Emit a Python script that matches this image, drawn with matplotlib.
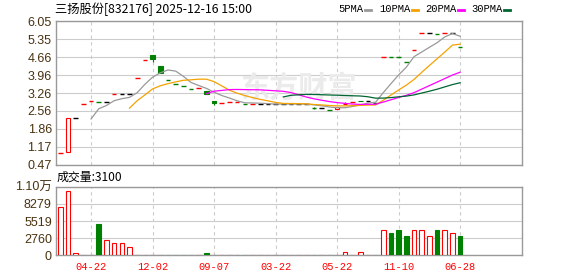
import numpy as np
import pandas as pd
import matplotlib
matplotlib.use('Agg')
import matplotlib.pyplot as plt
from matplotlib.lines import Line2D

# daily k-line data
opens  = [0.92, 0.95, 2.28, 2.82, 2.95, 2.91, 2.91, 3.21, 3.21, 3.21,
          3.83, 4.53, 4.74, 4.31, 3.77, 3.61, 3.52, 3.40, 3.46, 3.34,
          2.96, 2.88, 2.91, 2.92, 2.82, 2.83, 2.83, 2.83, 2.83, 2.83,
          2.83, 2.83, 2.83, 2.66, 2.66, 2.59, 2.63, 2.82, 2.91, 2.96,
          2.95, 2.88, 4.68, 4.66, 4.65, 4.46, 4.92, 5.58, 5.58, 5.55,
          5.58, 5.58, 5.04]
closes = [0.92, 2.28, 2.28, 2.82, 2.95, 2.91, 2.91, 3.21, 3.21, 3.21,
          3.83, 4.53, 4.60, 4.05, 3.77, 3.61, 3.52, 3.40, 3.46, 3.21,
          2.86, 2.88, 2.91, 2.92, 2.82, 2.83, 2.83, 2.83, 2.83, 2.83,
          2.83, 2.83, 2.83, 2.66, 2.66, 2.59, 2.70, 2.82, 2.91, 2.95,
          2.95, 2.88, 4.68, 4.66, 4.65, 4.46, 4.92, 5.58, 5.58, 5.55,
          5.58, 5.58, 5.04]
highs  = [0.92, 2.28, 2.28, 2.82, 2.95, 2.91, 2.91, 3.21, 3.21, 3.21,
          3.83, 4.53, 4.74, 4.31, 3.77, 3.61, 3.52, 3.40, 3.46, 3.34,
          2.96, 2.88, 2.91, 2.92, 2.82, 2.83, 2.83, 2.83, 2.83, 2.83,
          2.83, 2.83, 2.83, 2.70, 2.66, 2.59, 2.70, 2.92, 2.91, 2.96,
          2.95, 2.88, 4.68, 4.66, 4.65, 4.46, 4.92, 5.58, 5.58, 5.55,
          5.58, 5.58, 5.04]
lows   = [0.92, 0.95, 2.28, 2.82, 2.95, 2.91, 2.91, 3.21, 3.21, 3.21,
          3.83, 4.53, 4.48, 4.05, 3.77, 3.61, 3.52, 3.40, 3.46, 3.21,
          2.81, 2.88, 2.91, 2.92, 2.82, 2.83, 2.83, 2.83, 2.83, 2.83,
          2.83, 2.83, 2.83, 2.62, 2.66, 2.59, 2.63, 2.82, 2.91, 2.95,
          2.95, 2.88, 4.68, 4.66, 4.65, 4.46, 4.92, 5.58, 5.58, 5.55,
          5.58, 5.58, 5.04]
volumes = [7730, 10300, 450, 100, 100, 5090, 2460, 1980, 1980, 1290,
           100, 100, 100, 100, 100, 100, 100, 100, 100, 370,
           100, 100, 100, 100, 100, 100, 100, 100, 100, 100,
           100, 100, 100, 100, 100, 100, 100, 530, 100, 530,
           100, 100, 4070, 3590, 4070, 3100, 4070, 4070, 3100, 4070,
           4070, 3590, 3100]
first_prev_close = 0.85

date_ticks = [4, 12, 20, 28, 36, 44, 52]
date_labels = ['04-22', '12-02', '09-07', '03-22', '05-22', '11-10', '06-28']
price_ticks = [0.47, 1.1675, 1.865, 2.5625, 3.26, 3.9575, 4.655, 5.3525, 6.05]
price_labels = ['0.47', '1.17', '1.86', '2.56', '3.26', '3.96', '4.66', '5.35', '6.05']
vol_ticks = [0, 2759.5, 5519, 8278.5, 11038]
vol_labels = ['0', '2760', '5519', '8279', '1.10万']
ma_periods = [5, 10, 20, 30]
ma_names = ['5PMA', '10PMA', '20PMA', '30PMA']
ma_colors = ['#999999', '#f5a200', '#ff00ff', '#006633']

RED = '#ff0000'
GREEN = '#008000'
TICK_COL = '#4a3210'
CJK = ['Noto Sans CJK SC', 'DejaVu Sans']
NUM = ['Liberation Sans', 'Noto Sans CJK SC']
MONO = ['Liberation Mono', 'DejaVu Sans Mono']

n = len(closes)
x = np.arange(n)
prev = [first_prev_close] + closes[:-1]

fig = plt.figure(figsize=(5.78, 2.76), dpi=100)
ax = fig.add_axes([56/578, 1-164.7/276, 466/578, (164.7-21.3)/276])
axv = fig.add_axes([56/578, 1-255.3/276, 466/578, (255.3-186.7)/276])

# watermark behind the candles
ax.text(240/578, 1-88/276, '东方财富', fontsize=21, family=CJK, color='#ebebeb',
        fontweight='bold', va='center', ha='left', zorder=1,
        transform=fig.transFigure)

w = 0.6
for i in range(n):
    o, c, h, l = opens[i], closes[i], highs[i], lows[i]
    if o == c:
        if c > prev[i]:
            col = RED
        elif c < prev[i]:
            col = GREEN
        else:
            col = 'black'
        ax.hlines(c, i - w/2, i + w/2, color=col, lw=1.0, zorder=4)
    else:
        col = RED if c > o else GREEN
        face = 'white' if c > o else GREEN
        ax.bar(i, abs(c - o), bottom=min(o, c), width=w, facecolor=face,
               edgecolor=col, lw=0.8, zorder=4)
    if h > max(o, c) or l < min(o, c):
        ax.vlines(i, l, h, color=col, lw=0.8, zorder=3)

    # volume
    up = closes[i] >= prev[i]
    axv.bar(i, volumes[i], width=w, facecolor='white' if up else GREEN,
            edgecolor=RED if up else GREEN, lw=0.8, zorder=3)

s = pd.Series(closes)
for p, col in zip(ma_periods, ma_colors):
    ma = s.rolling(p).mean()
    ax.plot(x, ma, color=col, lw=0.9, zorder=5)

for a in (ax, axv):
    a.set_xlim(-0.56, 60.04)
    a.set_xticks(date_ticks)
    a.grid(axis='x', color='#cccccc', ls=(0, (3, 3)), lw=0.8)
    a.grid(axis='y', color='#cccccc', ls='-', lw=0.8)
    a.set_axisbelow(True)
    a.tick_params(length=0)
    for sp in a.spines.values():
        sp.set_color('#999999')
        sp.set_linewidth(1.0)

ax.set_ylim(0.47, 6.05)
ax.set_yticks(price_ticks)
ax.set_yticklabels(price_labels, fontsize=9, color=TICK_COL, family=NUM)
ax.tick_params(axis='y', pad=3)
ax.set_xticklabels([])

axv.set_ylim(0, 11038)
axv.set_yticks(vol_ticks)
axv.set_yticklabels(vol_labels, fontsize=9, color=TICK_COL, family=NUM)
axv.tick_params(axis='y', pad=3)
axv.set_xticklabels(date_labels, fontsize=7.5, color=RED, family=MONO)
axv.tick_params(axis='x', pad=4.5)

# title and legend
fig.text(55/578, 1-9/276, '三扬股份[832176] 2025-12-16 15:00', fontsize=8.8,
         family=CJK, va='center', ha='left')
leg_x = [338.7, 379.7, 425.7, 471.0]
for name, col, lx in zip(ma_names, ma_colors, leg_x):
    fig.text(lx/578, 1-9.5/276, name, fontsize=7.6, family=MONO,
             va='center', ha='left')
    mx = lx + 6.1*len(name) + 2
    fig.add_artist(Line2D([mx/578, (mx+6)/578], [1-10/276, 1-10/276],
                          color=col, lw=2, transform=fig.transFigure))

fig.text(57/578, 1-177.5/276, '成交量:3100', fontsize=8.6, family=CJK,
         va='center', ha='left')

fig.savefig('out.png', dpi=100)
